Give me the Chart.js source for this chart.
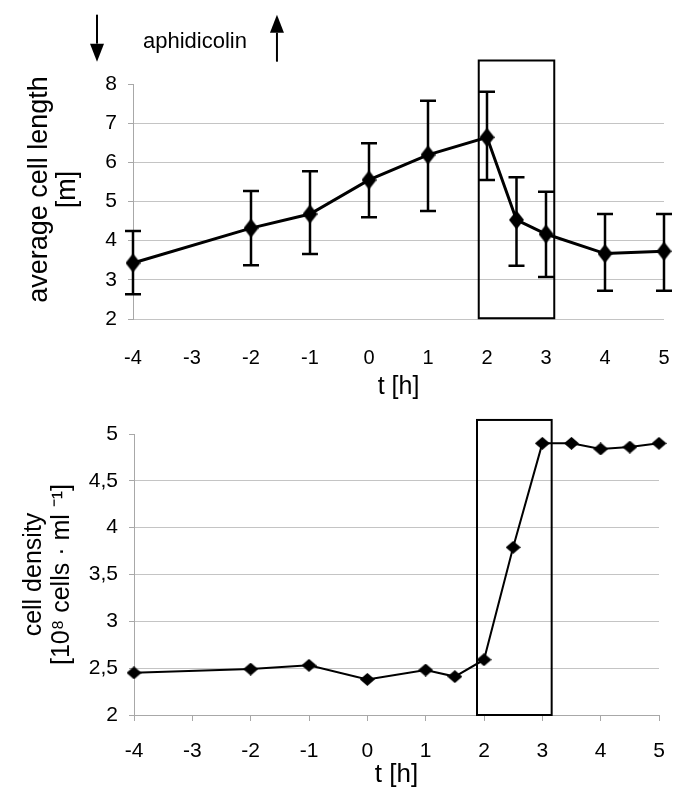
<!DOCTYPE html>
<html><head><meta charset="utf-8">
<script src="https://cdn.jsdelivr.net/npm/chart.js@4.4.1/dist/chart.umd.min.js"></script>
<style>
html,body{margin:0;padding:0;background:#fff;}
#wrap{position:relative;width:685px;height:798px;background:#fff;}
#c1{position:absolute;left:0;top:0;}
#c2{position:absolute;left:0;top:400px;}
</style></head><body>
<div id="wrap"><canvas id="c1" width="685" height="400"></canvas><canvas id="c2" width="685" height="398"></canvas></div>
<script>
// ---- data ----
const timeTop = [-4, -2, -1, 0, 1, 2, 2.5, 3, 4, 5];
const lengthMean = [3.43, 4.32, 4.68, 5.55, 6.19, 6.64, 4.53, 4.17, 3.67, 3.73];
const lengthUpper = [4.25, 5.27, 5.77, 6.49, 7.57, 7.80, 5.62, 5.25, 4.68, 4.68];
const lengthLower = [2.63, 3.37, 3.66, 4.60, 4.76, 5.55, 3.36, 3.07, 2.72, 2.72];
const timeBottom = [-4, -2, -1, 0, 1, 1.5, 2, 2.5, 3, 3.5, 4, 4.5, 5];
const density = [2.45, 2.49, 2.53, 2.38, 2.48, 2.41, 2.59, 3.79, 4.90, 4.90, 4.84, 4.86, 4.90];
const topTitleY = ['average cell length', '[m]'];
const bottomTitleY = ['cell density', '[10\u2078 cells \u00B7 ml \u207B\u00B9]'];
const xTitle = 't [h]';
const annotationText = 'aphidicolin';
// boxes / arrows in data units
const boxTop = {x0: 1.86, x1: 3.14, y0: 2.02, y1: 8.6};
const boxBottom = {x0: 1.88, x1: 3.16, y0: 2.0, y1: 5.15};
const arrowDown = {x: -4.61, yFrom: 9.77, yTo: 8.57};
const arrowUp = {x: -1.56, yFrom: 8.57, yTo: 9.77};
const labelPos = {x: -2.95, y: 9.08};

const GRID = '#c4c4c4';
const AXIS = '#a8a8a8';
const SANS = "'Liberation Sans', Arial, sans-serif";

function diamond(w, h) {
  const c = document.createElement('canvas');
  c.width = w; c.height = h;
  const g = c.getContext('2d');
  g.fillStyle = '#000';
  g.beginPath();
  g.moveTo(w / 2, 0); g.lineTo(w, h / 2); g.lineTo(w / 2, h); g.lineTo(0, h / 2);
  g.closePath(); g.fill();
  return c;
}

function drawBox(chart, b) {
  const {ctx, scales: {x, y}} = chart;
  const l = x.getPixelForValue(b.x0), r = x.getPixelForValue(b.x1);
  const t = y.getPixelForValue(b.y1), bt = y.getPixelForValue(b.y0);
  ctx.save();
  ctx.strokeStyle = '#000'; ctx.lineWidth = 2;
  ctx.strokeRect(l, t, r - l, bt - t);
  ctx.restore();
}

function drawArrow(ctx, px, yStart, yEnd) {
  const dir = Math.sign(yEnd - yStart);
  const headH = 18, headW = 14;
  ctx.beginPath();
  ctx.moveTo(px, yStart);
  ctx.lineTo(px, yEnd - dir * headH);
  ctx.lineWidth = 2; ctx.strokeStyle = '#000'; ctx.stroke();
  ctx.beginPath();
  ctx.moveTo(px, yEnd);
  ctx.lineTo(px - headW / 2, yEnd - dir * headH);
  ctx.lineTo(px + headW / 2, yEnd - dir * headH);
  ctx.closePath(); ctx.fillStyle = '#000'; ctx.fill();
}

const topOverlay = {
  id: 'topOverlay',
  beforeDatasetsDraw(chart) {
    const {ctx, scales: {x, y}} = chart;
    ctx.save();
    ctx.strokeStyle = '#000'; ctx.lineWidth = 2.5;
    const cap = 8;
    timeTop.forEach((t, i) => {
      const px = x.getPixelForValue(t);
      const hi = y.getPixelForValue(lengthUpper[i]);
      const lo = y.getPixelForValue(lengthLower[i]);
      ctx.beginPath();
      ctx.moveTo(px, hi); ctx.lineTo(px, lo);
      ctx.moveTo(px - cap, hi); ctx.lineTo(px + cap, hi);
      ctx.moveTo(px - cap, lo); ctx.lineTo(px + cap, lo);
      ctx.stroke();
    });
    ctx.restore();
  },
  afterDraw(chart) {
    drawBox(chart, boxTop);
    const {ctx, chartArea, scales: {x, y}} = chart;
    ctx.save();
    drawArrow(ctx, x.getPixelForValue(arrowDown.x), y.getPixelForValue(arrowDown.yFrom), y.getPixelForValue(arrowDown.yTo));
    drawArrow(ctx, x.getPixelForValue(arrowUp.x), y.getPixelForValue(arrowUp.yFrom), y.getPixelForValue(arrowUp.yTo));
    ctx.font = '22px ' + SANS;
    ctx.fillStyle = '#000'; ctx.textAlign = 'center'; ctx.textBaseline = 'middle';
    ctx.fillText(annotationText, x.getPixelForValue(labelPos.x), y.getPixelForValue(labelPos.y));
    // y-axis title (rotated), centred slightly above the plot centre as in the original
    const cy = (chartArea.top + chartArea.bottom) / 2 - 12;
    ctx.translate(40, cy);
    ctx.rotate(-Math.PI / 2);
    ctx.font = '27px ' + SANS;
    ctx.fillText(topTitleY[0], 0, 0);
    ctx.fillText(topTitleY[1], 0, 28);
    ctx.restore();
  }
};

const bottomOverlay = {
  id: 'bottomOverlay',
  afterDraw(chart) { drawBox(chart, boxBottom); }
};

Chart.defaults.color = '#000';

new Chart(document.getElementById('c1'), {
  type: 'line',
  data: {
    datasets: [{
      data: timeTop.map((t, i) => ({x: t, y: lengthMean[i]})),
      borderColor: '#000', borderWidth: 3,
      pointStyle: diamond(15, 19), pointRadius: 9,
      clip: false, tension: 0
    }]
  },
  options: {
    responsive: false, animation: false, devicePixelRatio: 1,
    layout: {padding: {top: 84, right: 21, left: 0, bottom: 0}},
    plugins: {legend: {display: false}, tooltip: {enabled: false}},
    scales: {
      x: {
        type: 'linear', min: -4, max: 5,
        ticks: {stepSize: 1, padding: 3, font: {family: SANS, size: 20}, color: '#000'},
        grid: {display: true, drawOnChartArea: false, drawTicks: true, tickLength: 24, tickColor: 'rgba(0,0,0,0)'},
        border: {display: false},
        title: {display: true, text: xTitle, font: {family: SANS, size: 25, lineHeight: 1}, padding: {top: 0, bottom: 0}, color: '#000'},
        afterFit(s) { s.height = 81; }
      },
      y: {
        min: 2, max: 8,
        ticks: {stepSize: 1, padding: 11, font: {family: SANS, size: 21}, color: '#000'},
        grid: {color: c => (c.tick && c.tick.value === 8) ? 'rgba(0,0,0,0)' : GRID, tickColor: AXIS, tickLength: 5},
        border: {color: AXIS},
        title: {display: false},
        afterFit(s) { s.width = 133; }
      }
    }
  },
  plugins: [topOverlay]
});

new Chart(document.getElementById('c2'), {
  type: 'line',
  data: {
    datasets: [{
      data: timeBottom.map((t, i) => ({x: t, y: density[i]})),
      borderColor: '#000', borderWidth: 2,
      pointStyle: diamond(15, 13), pointRadius: 8,
      clip: false, tension: 0
    }]
  },
  options: {
    responsive: false, animation: false, devicePixelRatio: 1,
    layout: {padding: {top: 34, right: 26, left: 0, bottom: 0}},
    plugins: {legend: {display: false}, tooltip: {enabled: false}},
    scales: {
      x: {
        type: 'linear', min: -4, max: 5,
        ticks: {stepSize: 1, padding: 18, font: {family: SANS, size: 21}, color: '#000'},
        grid: {display: true, drawOnChartArea: false, drawTicks: true, tickLength: 6, tickColor: AXIS},
        border: {display: true, color: AXIS},
        title: {display: true, text: xTitle, font: {family: SANS, size: 26, lineHeight: 1}, padding: {top: 0, bottom: 10}, color: '#000'},
        afterFit(s) { s.height = 83; }
      },
      y: {
        min: 2, max: 5,
        ticks: {stepSize: 0.5, padding: 11, font: {family: SANS, size: 21}, color: '#000',
          callback: v => String(v).replace('.', ',')},
        grid: {color: c => (c.tick && c.tick.value === 5) ? 'rgba(0,0,0,0)' : GRID, tickColor: AXIS, tickLength: 5},
        border: {color: AXIS},
        title: {display: true, text: bottomTitleY, font: {family: SANS, size: 25, lineHeight: 1.12}, padding: {top: 20, bottom: 0}, color: '#000'},
        afterFit(s) { s.width = 134; }
      }
    }
  },
  plugins: [bottomOverlay]
});
</script>
</body></html>
